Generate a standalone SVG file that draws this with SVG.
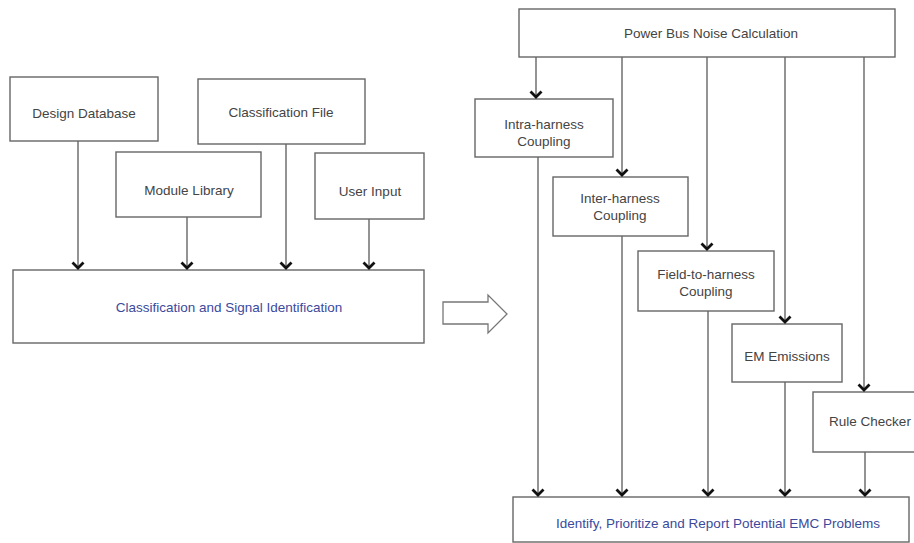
<svg xmlns="http://www.w3.org/2000/svg" width="914" height="543" viewBox="0 0 914 543">
<defs>
<marker id="arr" viewBox="0 0 14 9" refX="7" refY="8" markerWidth="14" markerHeight="9" markerUnits="userSpaceOnUse" orient="0">
<path d="M1.5,1.5 L7,7 L12.5,1.5" fill="none" stroke="#111" stroke-width="2.8"/>
</marker>
<style>
.box{fill:#fff;stroke:#666;stroke-width:1.4}
.t{font-family:"Liberation Sans",Arial,sans-serif;font-size:13.5px;fill:#444;text-anchor:middle}
.b{fill:#3b4a9c}
.c{fill:none;stroke:#666;stroke-width:1.4}
</style>
</defs>
<rect width="914" height="543" fill="#fff"/>
<g id="design-database"><rect class="box" x="10" y="77" width="148" height="64"/><text class="t" x="84" y="118">Design Database</text></g>
<g id="classification-file"><rect class="box" x="198" y="79" width="167" height="65"/><text class="t" x="281" y="117">Classification File</text></g>
<g id="module-library"><rect class="box" x="116" y="152" width="145" height="65"/><text class="t" x="189" y="195">Module Library</text></g>
<g id="user-input"><rect class="box" x="315" y="153" width="109" height="66"/><text class="t" x="370" y="196">User Input</text></g>
<g id="classification-signal"><rect class="box" x="13" y="270" width="411" height="73"/><text class="t b" x="229" y="312">Classification and Signal Identification</text></g>
<g id="block-arrow"><path d="M443,302 L488,302 L488,295 L507,314 L488,333 L488,324 L443,324 Z" fill="#fff" stroke="#777" stroke-width="1.3"/></g>
<g id="power-bus"><rect class="box" x="519" y="9" width="376" height="48"/><text class="t" x="711" y="38">Power Bus Noise Calculation</text></g>
<g id="intra-harness"><rect class="box" x="475" y="99" width="138" height="58"/><text class="t" x="544" y="129">Intra-harness</text><text class="t" x="544" y="146">Coupling</text></g>
<g id="inter-harness"><rect class="box" x="553" y="177" width="135" height="59"/><text class="t" x="620" y="203">Inter-harness</text><text class="t" x="620" y="220">Coupling</text></g>
<g id="field-to-harness"><rect class="box" x="638" y="251" width="136" height="60"/><text class="t" x="706" y="279">Field-to-harness</text><text class="t" x="706" y="296">Coupling</text></g>
<g id="em-emissions"><rect class="box" x="732" y="324" width="110" height="58"/><text class="t" x="787" y="361">EM Emissions</text></g>
<g id="rule-checker"><rect class="box" x="813" y="392" width="104" height="60"/><text class="t" x="870" y="426">Rule Checker</text></g>
<g id="identify-problems"><rect class="box" x="513" y="497" width="396" height="45"/><text class="t b" x="718" y="528">Identify, Prioritize and Report Potential EMC Problems</text></g>
<g id="connectors">
<line class="c" x1="78" y1="141" x2="78" y2="269" marker-end="url(#arr)"/>
<line class="c" x1="187" y1="217" x2="187" y2="269" marker-end="url(#arr)"/>
<line class="c" x1="286" y1="144" x2="286" y2="269" marker-end="url(#arr)"/>
<line class="c" x1="369" y1="219" x2="369" y2="269" marker-end="url(#arr)"/>
<line class="c" x1="536" y1="57" x2="536" y2="98" marker-end="url(#arr)"/>
<line class="c" x1="622" y1="57" x2="622" y2="176" marker-end="url(#arr)"/>
<line class="c" x1="707" y1="57" x2="707" y2="250" marker-end="url(#arr)"/>
<line class="c" x1="785" y1="57" x2="785" y2="323" marker-end="url(#arr)"/>
<line class="c" x1="864" y1="57" x2="864" y2="391" marker-end="url(#arr)"/>
<line class="c" x1="538" y1="157" x2="538" y2="496" marker-end="url(#arr)"/>
<line class="c" x1="622" y1="236" x2="622" y2="496" marker-end="url(#arr)"/>
<line class="c" x1="708" y1="311" x2="708" y2="496" marker-end="url(#arr)"/>
<line class="c" x1="785" y1="382" x2="785" y2="496" marker-end="url(#arr)"/>
<line class="c" x1="865" y1="452" x2="865" y2="496" marker-end="url(#arr)"/>
</g>
</svg>
